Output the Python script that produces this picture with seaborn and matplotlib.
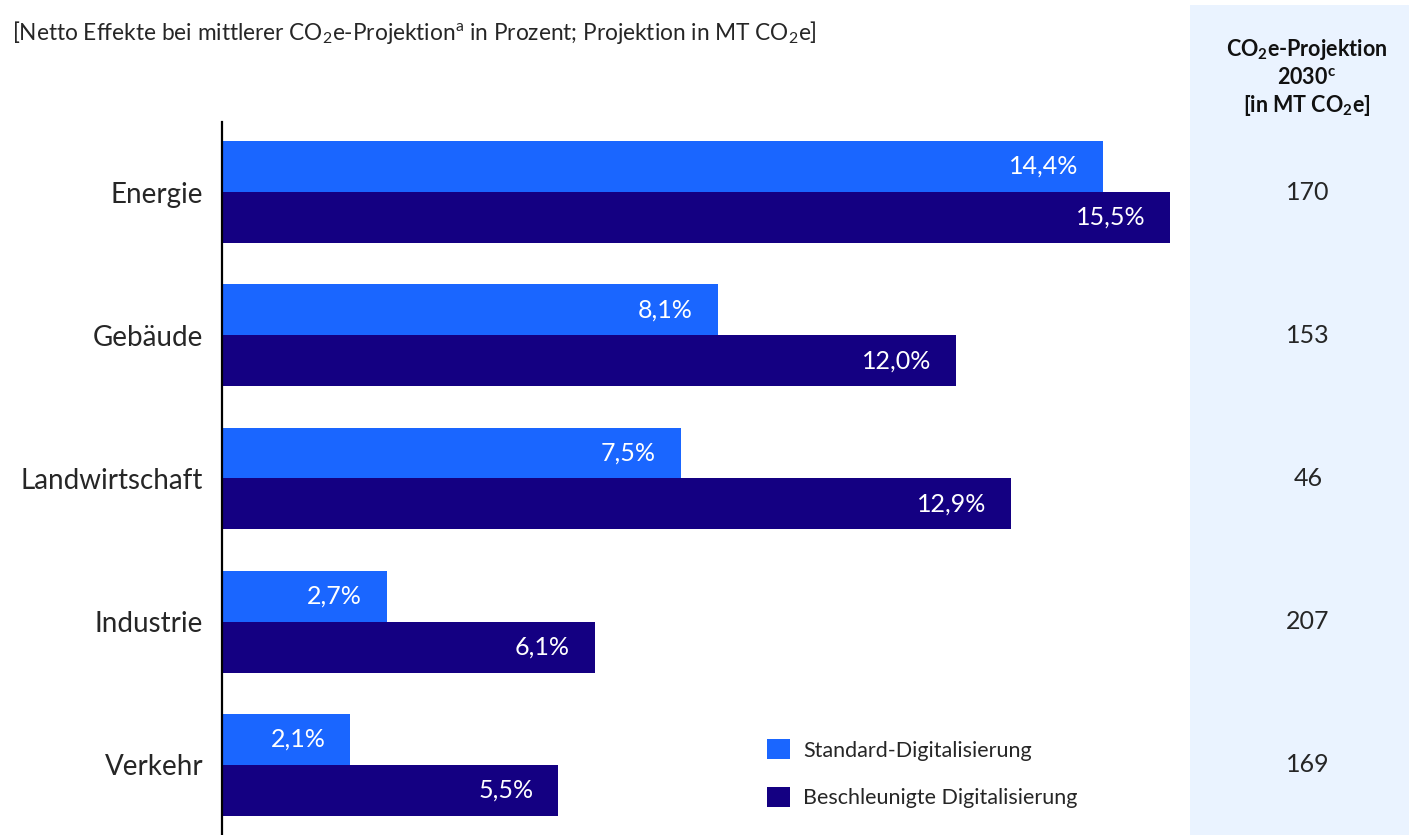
import matplotlib
matplotlib.use("Agg")
import matplotlib.pyplot as plt
import matplotlib.transforms as mtransforms
import seaborn as sns
import pandas as pd
from matplotlib.patches import Rectangle

categories = ["Energie", "Gebäude", "Landwirtschaft", "Industrie", "Verkehr"]
series_names = ["Standard-Digitalisierung", "Beschleunigte Digitalisierung"]
standard = [14.4, 8.1, 7.5, 2.7, 2.1]
beschleunigt = [15.5, 12.0, 12.9, 6.1, 5.5]
projektion = ["170", "153", "46", "207", "169"]
colors = ["#1A66FF", "#140082"]

sns.set_theme(style="white")
plt.rcParams['font.family'] = ['Lato', 'DejaVu Sans']
plt.rcParams['mathtext.fontset'] = 'custom'
plt.rcParams['mathtext.rm'] = 'Lato'
plt.rcParams['mathtext.it'] = 'Lato'
plt.rcParams['mathtext.bf'] = 'Lato:bold'

df = pd.DataFrame({
    "Kategorie": categories * 2,
    "Wert": standard + beschleunigt,
    "Serie": [series_names[0]] * 5 + [series_names[1]] * 5,
})

W, H = 1409, 835
fig = plt.figure(figsize=(W / 100, H / 100), dpi=100)

# right panel
fig.patches.append(Rectangle((1190 / W, 0), (W - 1190) / W, (H - 5) / H,
                             transform=fig.transFigure, facecolor="#EAF3FF",
                             edgecolor="none", zorder=-5))

ax_left, ax_right = 222, 1190
ax_top, ax_bottom = 122, 835
ax = fig.add_axes([ax_left / W, (H - ax_bottom) / H, (ax_right - ax_left) / W,
                   (ax_bottom - ax_top) / H])
ax.set_facecolor("none")

sns.barplot(data=df, y="Kategorie", x="Wert", hue="Serie", orient="h",
            palette=colors, saturation=1, width=0.712, dodge=True, ax=ax,
            linewidth=0, legend=True)

ax.set_xlim(0, (ax_right - ax_left) / 61.18)
ax.set_ylim(4.489, -0.489)
for s in ["top", "right", "bottom"]:
    ax.spines[s].set_visible(False)
ax.spines["left"].set_color("black")
ax.spines["left"].set_linewidth(1.6)
ax.set_xticks([])
ax.set_xlabel("")
ax.set_ylabel("")
ax.tick_params(axis="y", length=0, pad=13.5, labelsize=20, labelcolor="#262626")

# bar labels
for cont in ax.containers:
    for bar in cont:
        w = bar.get_width()
        y = bar.get_y() + bar.get_height() / 2
        ax.text(w - 0.41, y, f"{w:.1f}%".replace(".", ","), ha="right",
                va="center", color="white", fontsize=18)

# legend
handles, labels = ax.get_legend_handles_labels()
ax.get_legend().remove()
fig.legend(handles, labels, loc="upper left", bbox_to_anchor=(748 / W, 1 - 720 / H),
           frameon=False, fontsize=15.5, handlelength=1.05, handleheight=1.05,
           labelspacing=1.2, handletextpad=0.6, labelcolor="#262626")

# subtitle
fig.text(12 / W, 1 - 33 / H,
         r"[Netto Effekte bei mittlerer CO$_2$e-Projektion$^{a}$ in Prozent; Projektion in MT CO$_2$e]",
         ha="left", va="center", fontsize=16.3, color="#262626")

# panel header
cx = 1307 / W
for yy, t in [(50, r"CO$_\mathbf{2}$e-Projektion"), (78, r"2030$^\mathbf{c}$"),
              (106, r"[in MT CO$_\mathbf{2}$e]")]:
    fig.text(cx, 1 - yy / H, t, ha="center", va="center",
             fontsize=15.5, fontweight="bold", color="#111111")

# panel values
trans = mtransforms.blended_transform_factory(fig.transFigure, ax.transData)
for i, v in enumerate(projektion):
    fig.text(1308 / W, i, v, transform=trans, ha="center", va="center",
             fontsize=18, color="#262626")

fig.savefig("out.png", dpi=100)
